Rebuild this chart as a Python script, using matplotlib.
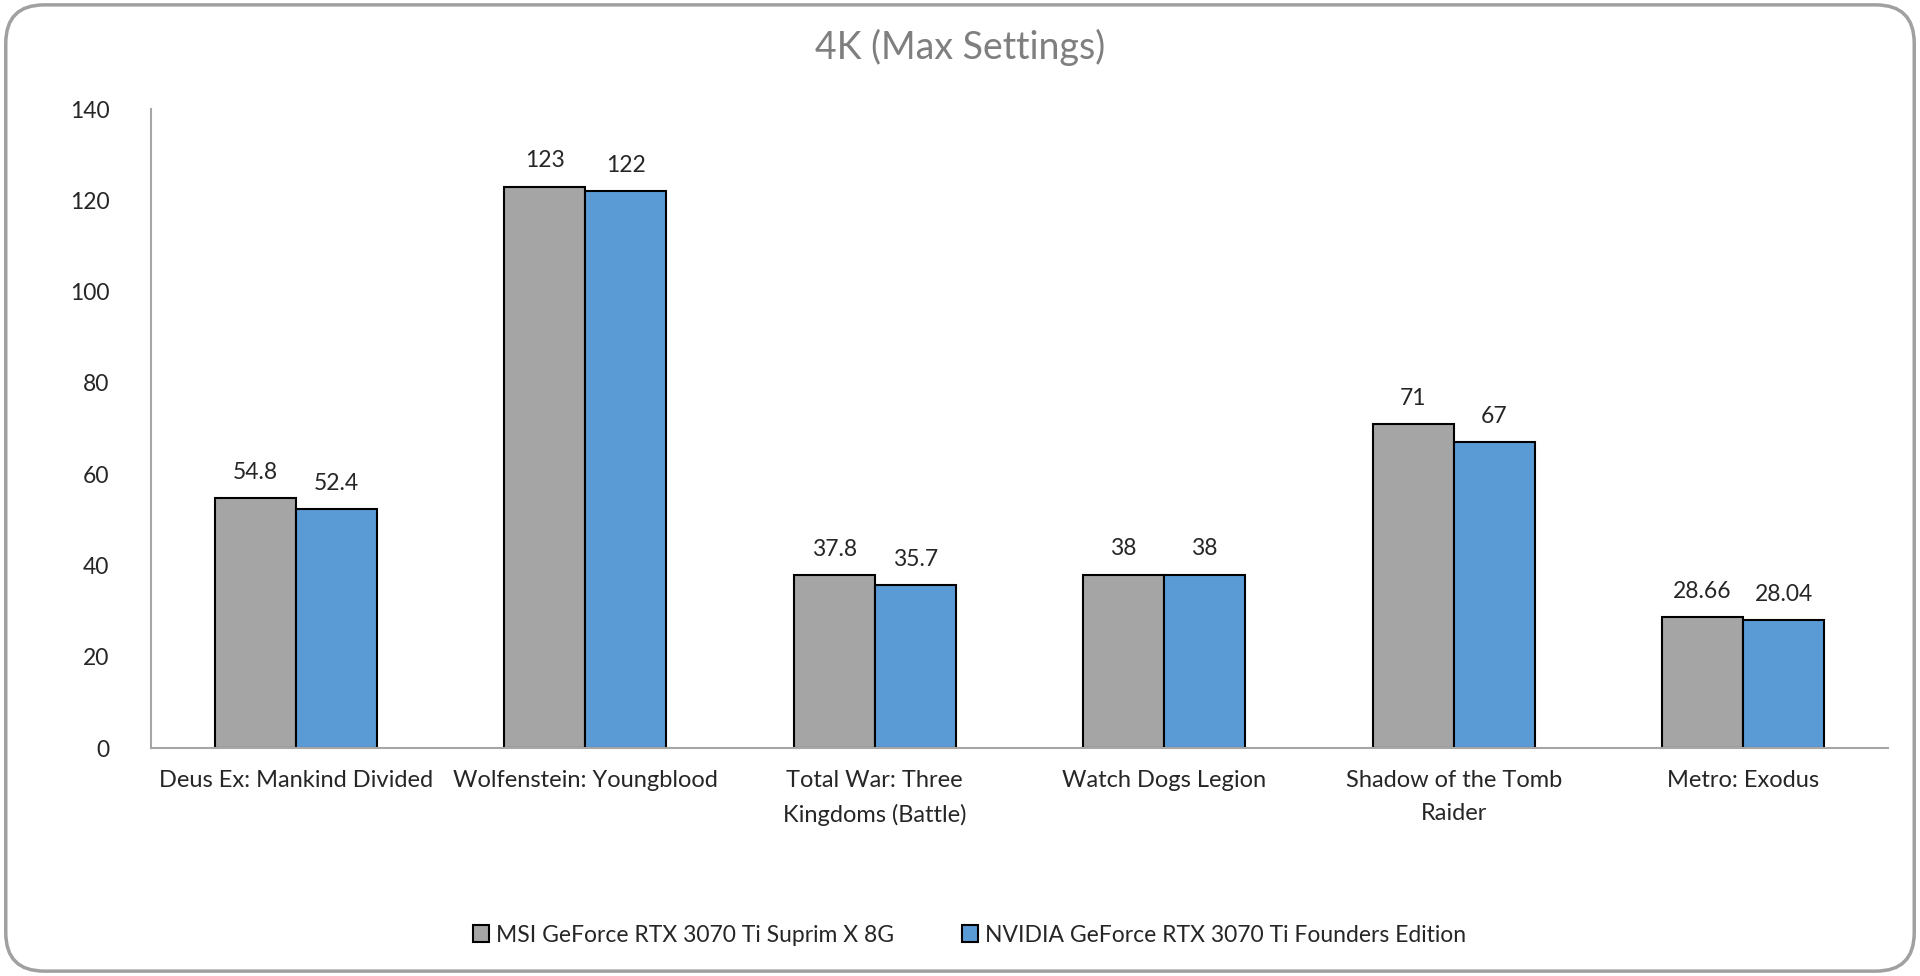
import matplotlib.pyplot as plt
import numpy as np
from matplotlib.patches import FancyBboxPatch

plt.rcParams['font.family'] = ['Lato', 'DejaVu Sans']

games = ["Deus Ex: Mankind Divided", "Wolfenstein: Youngblood",
         "Total War: Three\nKingdoms (Battle)", "Watch Dogs Legion",
         "Shadow of the Tomb\nRaider", "Metro: Exodus"]
msi = [54.8, 123, 37.8, 38, 71, 28.66]
nvidia = [52.4, 122, 35.7, 38, 67, 28.04]
msi_labels = ["54.8", "123", "37.8", "38", "71", "28.66"]
nvidia_labels = ["52.4", "122", "35.7", "38", "67", "28.04"]
series_names = ["MSI GeForce RTX 3070 Ti Suprim X 8G",
                "NVIDIA GeForce RTX 3070 Ti Founders Edition"]

fig = plt.figure(figsize=(19.2, 9.76), dpi=100)
ax = fig.add_axes([0.0786, 0.2336, 0.9047, 0.6547])

x = np.arange(len(games))
w = 0.28
b1 = ax.bar(x - w / 2, msi, w, color="#A5A5A5", edgecolor="black", linewidth=1.5, label=series_names[0])
b2 = ax.bar(x + w / 2, nvidia, w, color="#5B9BD5", edgecolor="black", linewidth=1.5, label=series_names[1])

for bars, labs in ((b1, msi_labels), (b2, nvidia_labels)):
    for r, t in zip(bars, labs):
        ax.annotate(t, (r.get_x() + r.get_width() / 2, r.get_height()),
                    xytext=(0, 11), textcoords="offset points",
                    ha="center", va="bottom", fontsize=16.5, color="#262626")

ax.set_xlim(-0.5, len(games) - 0.5)
ax.set_ylim(0, 140)
ax.set_yticks(range(0, 141, 20))
ax.set_xticks(x)
ax.set_xticklabels(games, fontsize=17, color="#262626", linespacing=1.7)
ax.tick_params(axis="y", labelsize=16.5, labelcolor="#262626", length=0, pad=30)
ax.tick_params(axis="x", length=0, pad=16)
for s in ("top", "right"):
    ax.spines[s].set_visible(False)
ax.spines["left"].set_color("#A6A6A6")
ax.spines["bottom"].set_color("#A6A6A6")
ax.spines["left"].set_linewidth(1.5)
ax.spines["bottom"].set_linewidth(1.5)

fig.text(0.5, 0.951, "4K (Max Settings)", ha="center", va="center", fontsize=27, color="#7F7F7F")

fig.legend(handles=[b1, b2], loc="center", bbox_to_anchor=(0.505, 0.042), ncol=2,
           frameon=False, fontsize=16.5, handlelength=0.7, handleheight=0.7,
           columnspacing=3, handletextpad=0.3, labelcolor="#262626")

border = FancyBboxPatch((0.003, 0.005), 0.994, 0.99, boxstyle="round,pad=0,rounding_size=0.02",
                        transform=fig.transFigure, fill=False, edgecolor="#A0A0A0", linewidth=2.5,
                        mutation_aspect=1920 / 976)
fig.patches.append(border)

fig.savefig("out.png", dpi=100)
